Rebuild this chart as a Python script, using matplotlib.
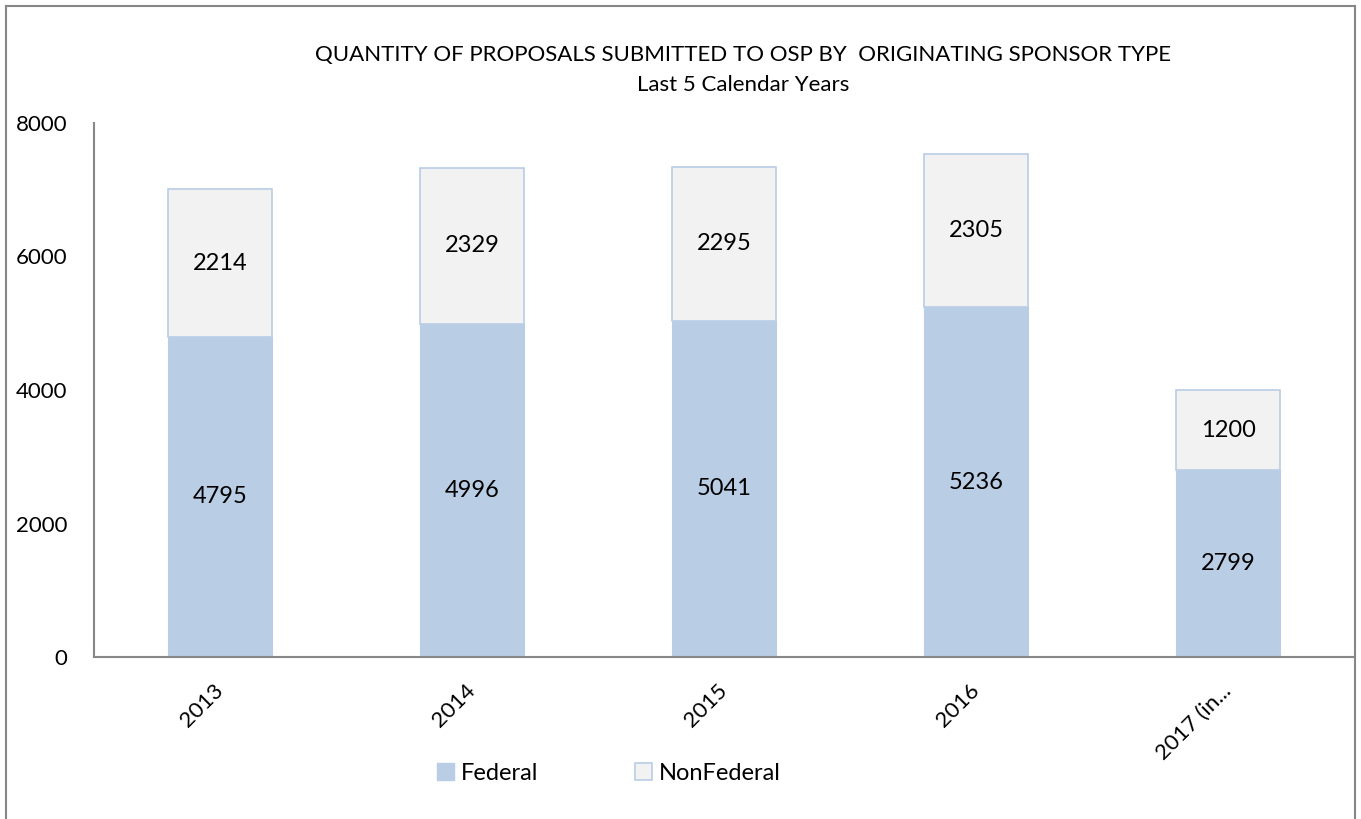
import matplotlib
matplotlib.use("Agg")
import matplotlib.pyplot as plt
import matplotlib.transforms as mtrans
from matplotlib.lines import Line2D
from matplotlib.patches import Patch

# -------- data --------
years     = ['2013', '2014', '2015', '2016', '2017 (in...']
federal   = [4795, 4996, 5041, 5236, 2799]
nonfed    = [2214, 2329, 2295, 2305, 1200]

FED_COL   = '#B9CDE5'
NON_COL   = '#F2F2F2'
AXIS_COL  = '#878787'

plt.rcParams['font.family'] = ['Lato', 'DejaVu Sans']

fig = plt.figure(figsize=(13.61, 8.19), dpi=100)
ax = fig.add_axes([94/1361, 1-657/819, 1260/1361, 534/819])

x = range(len(years))
ax.bar(x, federal, width=0.41, color=FED_COL, edgecolor=FED_COL, linewidth=0.8)
ax.bar(x, nonfed, width=0.41, bottom=federal, color=NON_COL,
       edgecolor=FED_COL, linewidth=1.2)

for i in x:
    ax.text(i, federal[i]/2, str(federal[i]), ha='center', va='center', fontsize=17)
    ax.text(i, federal[i] + nonfed[i]/2, str(nonfed[i]), ha='center', va='center', fontsize=17)

ax.set_xlim(-0.5, 4.5)
ax.set_ylim(0, 8000)
ax.set_yticks([0, 2000, 4000, 6000, 8000])
ax.tick_params(axis='y', length=0, pad=19, labelsize=16)
ax.tick_params(axis='x', length=0, pad=17, labelsize=16)
ax.set_xticks(list(x))
ax.set_xticklabels(years, rotation=45, ha='right', va='top', rotation_mode='anchor')
shift = mtrans.ScaledTranslation(-7/100, 0, fig.dpi_scale_trans)
for lab in ax.get_xticklabels():
    lab.set_transform(lab.get_transform() + shift)

for s in ['top', 'right']:
    ax.spines[s].set_visible(False)
for s in ['left', 'bottom']:
    ax.spines[s].set_color(AXIS_COL)
    ax.spines[s].set_linewidth(1.5)

# titles
fig.text(743/1361, 1-55/819, "QUANTITY OF PROPOSALS SUBMITTED TO OSP BY  ORIGINATING SPONSOR TYPE",
         ha='center', va='center', fontsize=16)
fig.text(743/1361, 1-85/819, "Last 5 Calendar Years", ha='center', va='center', fontsize=16)

# legend
handles = [Patch(facecolor=FED_COL, edgecolor=FED_COL, label='Federal'),
           Patch(facecolor=NON_COL, edgecolor=FED_COL, linewidth=1.2, label='NonFederal')]
fig.legend(handles=handles, loc='center', bbox_to_anchor=(609/1361, 1-773/819), ncol=2,
           frameon=False, fontsize=17, handlelength=0.7, handleheight=0.7,
           handletextpad=0.3, columnspacing=4.1)

# outer border (left, top, right)
bx0, bx1, by1 = 6/1361, 1355/1361, 1-6/819
fig.add_artist(Line2D([bx0, bx0], [0, by1], transform=fig.transFigure, color=AXIS_COL, lw=1.5))
fig.add_artist(Line2D([bx0, bx1], [by1, by1], transform=fig.transFigure, color=AXIS_COL, lw=1.5))
fig.add_artist(Line2D([bx1, bx1], [0, by1], transform=fig.transFigure, color=AXIS_COL, lw=1.5))

fig.savefig('out.png', dpi=100)
